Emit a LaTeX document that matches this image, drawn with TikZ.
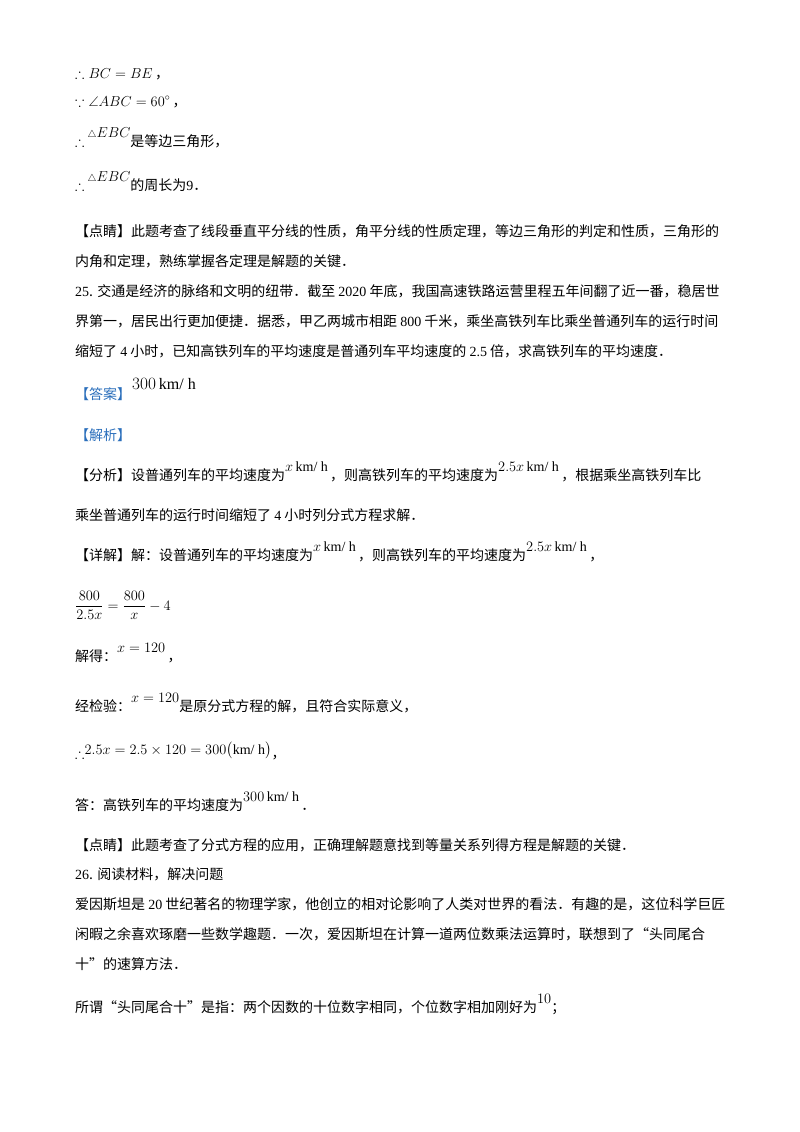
\documentclass[tikz,border=0pt]{standalone}
\usepackage{amsmath,amssymb}
\usepackage{fontspec}
\setmainfont{Noto Sans CJK SC}
\newfontfamily\lat{Liberation Serif}
\definecolor{ansblue}{HTML}{2A6EBB}
\newcommand\R[1]{{\lat #1}}
\newcommand\up[1]{\raisebox{9pt}{#1}}
\newcommand\kmh{\,\text{\lat km/ h}}
\begin{document}
\begin{tikzpicture}[x=1pt,y=1pt,every node/.style={anchor=base west,inner sep=0pt,font=\fontsize{14}{17}\selectfont}]
\useasboundingbox (0,0) rectangle (800,-1132);
\node (l1) at (75,-78) {$\therefore BC=BE$\,，};
\node (l2) at (75,-106) {$\because \angle ABC=60^\circ$\,，};
\node (l3) at (75,-146) {$\therefore$ \up{$\scriptstyle\triangle$$EBC$}是等边三角形，};
\node (l4) at (75,-190) {$\therefore$ \up{$\scriptstyle\triangle$$EBC$}的周长为\R{9}．};
\node (l5) at (75,-236) {【点睛】此题考查了线段垂直平分线的性质，角平分线的性质定理，等边三角形的判定和性质，三角形的};
\node (l6) at (75,-266) {内角和定理，熟练掌握各定理是解题的关键．};
\node (l7) at (75,-296) {\R{25}. 交通是经济的脉络和文明的纽带．截至 \R{2020} 年底，我国高速铁路运营里程五年间翻了近一番，稳居世};
\node (l8) at (75,-326) {界第一，居民出行更加便捷．据悉，甲乙两城市相距 \R{800} 千米，乘坐高铁列车比乘坐普通列车的运行时间};
\node (l9) at (75,-356) {缩短了 \R{4} 小时，已知高铁列车的平均速度是普通列车平均速度的 \R{2.5} 倍，求高铁列车的平均速度．};
\node[text=ansblue] (l10) at (75,-399) {【答案】};
\node (l10b) at (132,-389) {\fontsize{16}{18}\selectfont$300\kmh$};
\node[text=ansblue] (l11) at (75,-440) {【解析】};
\node (l12) at (75,-480) {【分析】设普通列车的平均速度为\up{$x\kmh$}\,，则高铁列车的平均速度为\up{$2.5x\kmh$}\,，根据乘坐高铁列车比};
\node (l13) at (75,-520) {乘坐普通列车的运行时间缩短了 \R{4} 小时列分式方程求解．};
\node (l14) at (75,-560) {【详解】解：设普通列车的平均速度为\up{$x\kmh$}\,，则高铁列车的平均速度为\up{$2.5x\kmh$}\,，};
\node (l15) at (75,-610) {$\dfrac{800}{2.5x}=\dfrac{800}{x}-4$};
\node (l16) at (75,-661) {解得：\up{$x=120$}\,，};
\node (l17) at (75,-711) {经检验：\up{$x=120$}是原分式方程的解，且符合实际意义，};
\node (l18) at (75,-758) {$\therefore$\raisebox{4pt}{$2.5x=2.5\times120=300\bigl(\text{\lat km/ h}\bigr)$}，};
\node (l19) at (75,-810) {答：高铁列车的平均速度为\up{$300\kmh$}\,．};
\node (l20) at (75,-850) {【点睛】此题考查了分式方程的应用，正确理解题意找到等量关系列得方程是解题的关键．};
\node (l21) at (75,-879) {\R{26}. 阅读材料，解决问题};
\node (l22) at (75,-909) {爱因斯坦是 \R{20} 世纪著名的物理学家，他创立的相对论影响了人类对世界的看法．有趣的是，这位科学巨匠};
\node (l23) at (75,-939) {闲暇之余喜欢琢磨一些数学趣题．一次，爱因斯坦在计算一道两位数乘法运算时，联想到了“头同尾合};
\node (l24) at (75,-969) {十”的速算方法．};
\node (l25) at (75,-1012) {所谓“头同尾合十”是指：两个因数的十位数字相同，个位数字相加刚好为\up{$10$}；};
\end{tikzpicture}
\end{document}
